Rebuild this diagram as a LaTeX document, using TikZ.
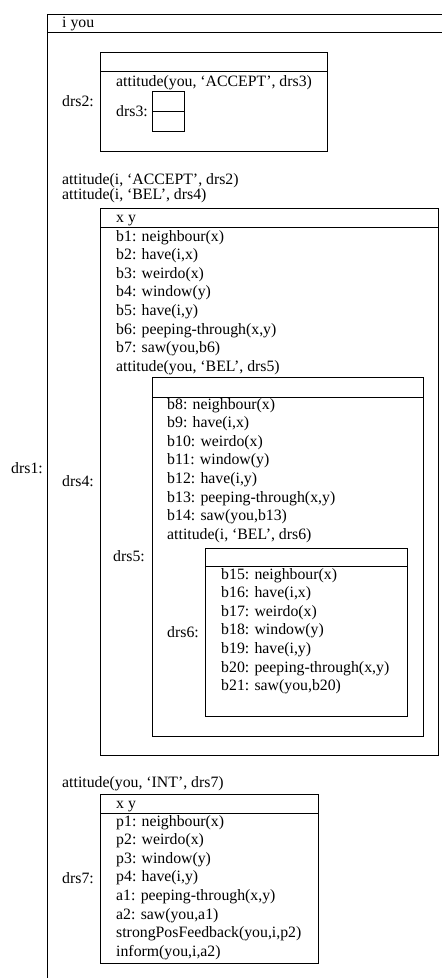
\documentclass[tikz,border=0pt]{standalone}
\usepackage{fontspec}
\setmainfont{Liberation Serif}
\begin{document}
\begin{tikzpicture}[x=1pt,y=-1pt,
  txt/.style={inner sep=0pt,anchor=base west,font=\fontsize{15.8}{18.6}\selectfont},
  lbl/.style={inner sep=0pt,anchor=west,font=\fontsize{15.8}{18.6}\selectfont},
  boxline/.style={draw=black,line width=0.9pt}]
\useasboundingbox (0,0) rectangle (442,978);
\clip (0,0) rectangle (442,978);
\fill[white] (0,0) rectangle (442,978);
% drs1
\draw[boxline] (47,14) rectangle (460,1000);
\draw[boxline] (47,32) -- (460,32);
\node[txt] (h1) at (62,27) {i you};
\node[lbl] (l1) at (11,468) {drs1:};
% drs2
\node[lbl] (l2) at (62,101.5) {drs2:};
\draw[boxline] (100,52) rectangle (327,151);
\draw[boxline] (100,71) -- (327,71);
\node[txt] (c2) at (116,86) {attitude(you, ‘ACCEPT’, drs3)};
\node[lbl] (l3) at (116,111) {drs3:};
\draw[boxline] (152,91) rectangle (184,131);
\draw[boxline] (152,111) -- (184,111);
% attitudes
\node[txt] (a1) at (62,184) {attitude(i, ‘ACCEPT’, drs2)};
\node[txt] (a2) at (62,199.5) {attitude(i, ‘BEL’, drs4)};
% drs4
\node[lbl] (l4) at (62,481.5) {drs4:};
\draw[boxline] (100,208) rectangle (438,755);
\draw[boxline] (100,227) -- (438,227);
\node[txt] (h4) at (116,222) {x y};
\foreach \t [count=\i from 0] in {{b1: neighbour(x)},{b2: have(i,x)},{b3: weirdo(x)},{b4: window(y)},{b5: have(i,y)},{b6: peeping-through(x,y)},{b7: saw(you,b6)}}
  \node[txt] (d4l\i) at (116,241+18.6*\i) {\t};
\node[txt] (d4a) at (116,371.2) {attitude(you, ‘BEL’, drs5)};
% drs5
\node[lbl] (l5) at (113,556.5) {drs5:};
\draw[boxline] (152,377) rectangle (423,736);
\draw[boxline] (152,397) -- (423,397);
\foreach \t [count=\i from 0] in {{b8: neighbour(x)},{b9: have(i,x)},{b10: weirdo(x)},{b11: window(y)},{b12: have(i,y)},{b13: peeping-through(x,y)},{b14: saw(you,b13)}}
  \node[txt] (d5l\i) at (167,409+18.6*\i) {\t};
\node[txt] (d5a) at (167,539.2) {attitude(i, ‘BEL’, drs6)};
% drs6
\node[lbl] (l6) at (167,632) {drs6:};
\draw[boxline] (205,548) rectangle (407,716);
\draw[boxline] (205,566) -- (407,566);
\foreach \t [count=\i from 0] in {{b15: neighbour(x)},{b16: have(i,x)},{b17: weirdo(x)},{b18: window(y)},{b19: have(i,y)},{b20: peeping-through(x,y)},{b21: saw(you,b20)}}
  \node[txt] (d6l\i) at (221,579+18.6*\i) {\t};
% drs7
\node[txt] (a3) at (62,787) {attitude(you, ‘INT’, drs7)};
\node[lbl] (l7) at (62,878.5) {drs7:};
\draw[boxline] (100,794) rectangle (318,963);
\draw[boxline] (100,813) -- (318,813);
\node[txt] (h7) at (116,808) {x y};
\foreach \t [count=\i from 0] in {{p1: neighbour(x)},{p2: weirdo(x)},{p3: window(y)},{p4: have(i,y)},{a1: peeping-through(x,y)},{a2: saw(you,a1)},{strongPosFeedback(you,i,p2)},{inform(you,i,a2)}}
  \node[txt] (d7l\i) at (116,826+18.6*\i) {\t};
\end{tikzpicture}
\end{document}
